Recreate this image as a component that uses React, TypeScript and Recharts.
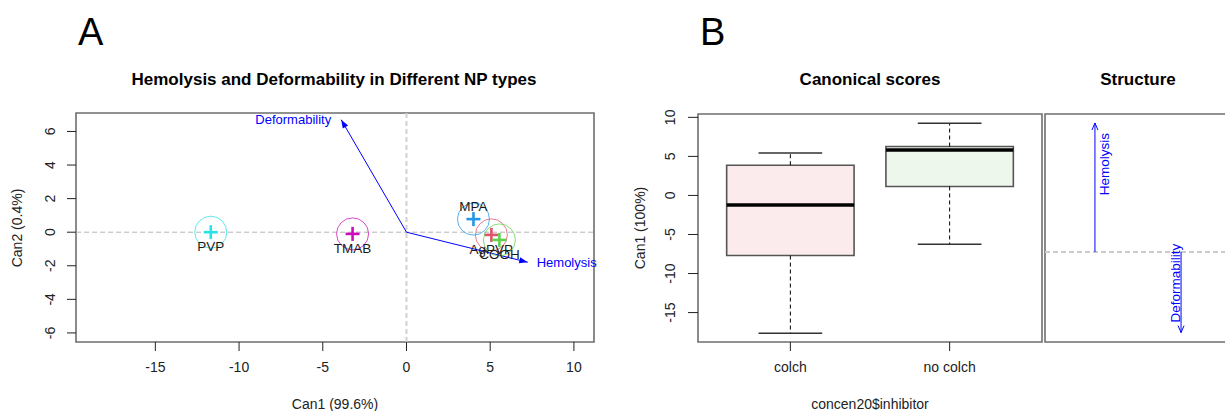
import React from "react";
import {
  ComposedChart,
  ReferenceArea,
  ReferenceLine,
  Scatter,
  ScatterChart,
  XAxis,
  YAxis,
} from "recharts";

const FONT = '"Liberation Sans", Arial, Helvetica, sans-serif';

// Panel A: canonical means of each NP type
const npTypes = ["AgPVP", "COOH", "MPA", "PVP", "TMAB"];
const can1Means = [5.07, 5.55, 4.0, -11.69, -3.22];
const can2Means = [-0.16, -0.46, 0.78, 0.0, -0.1];
const npColors = ["#DF536B", "#61D04F", "#2297E6", "#28E2E5", "#CD0BBC"];

// Panel A: variable vectors
const responseVars = ["Hemolysis", "Deformability"];
const can1Vectors = [7.24, -3.9];
const can2Vectors = [-1.79, 6.7];

const xTicksA = [-15, -10, -5, 0, 5, 10];
const yTicksA = [-6, -4, -2, 0, 2, 4, 6];

// Panel B: canonical scores by inhibitor
const inhibitors = ["colch", "no colch"];
const lowerWhisker = [-17.66, -6.26];
const lowerHinge = [-7.7, 1.15];
const medianScore = [-1.23, 5.83];
const upperHinge = [3.87, 6.26];
const upperWhisker = [5.45, 9.23];
const boxFills = ["#FBEBEC", "#EEF7EB"];
const yTicksB = [-15, -10, -5, 0, 5, 10];

// Panel B: structure coefficients
const structureCoef = [0.96, -0.6];

const domainXA: [number, number] = [-19.74, 11.2];
const domainYA: [number, number] = [-6.54, 7.1];
const domainXB: [number, number] = [0.42, 2.58];
const domainYB: [number, number] = [-18.77, 10.43];
const domainYS: [number, number] = [-0.67, 1.027];

const FRAME = "#6e6e6e";
const BLUE = "#0000FF";
const TXT = 14;
const TITLE = 17;

const rotTick = (off: number) => ({ x, y, payload }: any) => (
  <text
    x={x - off}
    y={y}
    transform={`rotate(-90, ${x - off}, ${y})`}
    textAnchor="middle"
    fontSize={TXT}
    fill="#222"
    fontFamily={FONT}
  >
    {payload.value}
  </text>
);

const bottomTick = (fmt: (v: number) => string) => ({ x, y, payload }: any) => (
  <text x={x} y={y + 21} textAnchor="middle" fontSize={TXT} fill="#222" fontFamily={FONT}>
    {fmt(payload.value)}
  </text>
);

const NpMarker = (props: any) => {
  const { cx, cy, payload } = props;
  const c = payload.color;
  const below = payload.y < 0.5;
  return (
    <g>
      <circle cx={cx} cy={cy} r={16} fill="none" stroke={c} strokeOpacity={0.75} strokeWidth={1} />
      <line x1={cx - 7} x2={cx + 7} y1={cy} y2={cy} stroke={c} strokeWidth={2.6} />
      <line x1={cx} x2={cx} y1={cy - 7} y2={cy + 7} stroke={c} strokeWidth={2.6} />
      <text
        x={cx}
        y={below ? cy + 19 : cy - 8}
        textAnchor="middle"
        fontSize={13.5}
        fill="#1a1a1a"
        fontFamily={FONT}
      >
        {payload.name}
      </text>
    </g>
  );
};

// arrow with filled head + label, used by ReferenceLine segments in panel A
const vectorArrow = (name: string) => (p: any) => {
  const { x1, y1, x2, y2 } = p;
  const ang = Math.atan2(y2 - y1, x2 - x1);
  const L = 9;
  const a1x = x2 - L * Math.cos(ang - 0.35);
  const a1y = y2 - L * Math.sin(ang - 0.35);
  const a2x = x2 - L * Math.cos(ang + 0.35);
  const a2y = y2 - L * Math.sin(ang + 0.35);
  const left = x2 < x1;
  return (
    <g>
      <line x1={x1} y1={y1} x2={x2} y2={y2} stroke={BLUE} strokeWidth={1} />
      <polygon points={`${x2},${y2} ${a1x},${a1y} ${a2x},${a2y}`} fill={BLUE} />
      <text
        x={left ? x2 - 10 : x2 + 9}
        y={y2 + 4.5}
        textAnchor={left ? "end" : "start"}
        fontSize={13}
        fill={BLUE}
        fontFamily={FONT}
      >
        {name}
      </text>
    </g>
  );
};

// vertical arrow with open head + rotated label for the structure panel
const structArrow = (name: string, up: boolean) => (p: any) => {
  const { x1, y1, x2, y2 } = p;
  const d = up ? 1 : -1;
  const tx = up ? x2 + 14 : x2 - 1;
  const ty = up ? y2 + 10 : y2 - 10;
  return (
    <g>
      <line x1={x1} y1={y1} x2={x2} y2={y2} stroke={BLUE} strokeWidth={1} />
      <polyline
        points={`${x2 - 3},${y2 + 7 * d} ${x2},${y2} ${x2 + 3},${y2 + 7 * d}`}
        fill="none"
        stroke={BLUE}
        strokeWidth={1}
      />
      <text
        x={tx}
        y={ty}
        transform={`rotate(-90, ${tx}, ${ty})`}
        textAnchor={up ? "end" : "start"}
        fontSize={13.5}
        fill={BLUE}
        fontFamily={FONT}
      >
        {name}
      </text>
    </g>
  );
};

const Empty = () => <g />;

export default function App() {
  const npData = npTypes.map((name, i) => ({
    name,
    x: can1Means[i],
    y: can2Means[i],
    color: npColors[i],
  }));
  const boxData = inhibitors.map((name, i) => ({ pos: i + 1, median: medianScore[i], name }));
  const structData = responseVars.map((name, i) => ({ pos: i + 1, coef: structureCoef[i], name }));

  return (
    <div
      style={{
        position: "fixed",
        left: 0,
        top: 0,
        width: 1225,
        height: 411,
        overflow: "hidden",
        background: "#fff",
        fontFamily: FONT,
      }}
    >
      <svg width={1225} height={411} style={{ position: "absolute", left: 0, top: 0 }}>
        <text x={78} y={45} fontSize={38} fontFamily={FONT} fill="#000">A</text>
        <text x={700} y={45} fontSize={38} fontFamily={FONT} fill="#000">B</text>
        <text x={334} y={85} fontSize={TITLE} fontWeight="bold" textAnchor="middle" fontFamily={FONT}>
          Hemolysis and Deformability in Different NP types
        </text>
        <text x={870} y={85} fontSize={TITLE} fontWeight="bold" textAnchor="middle" fontFamily={FONT}>
          Canonical scores
        </text>
        <text x={1138} y={85} fontSize={TITLE} fontWeight="bold" textAnchor="middle" fontFamily={FONT}>
          Structure
        </text>
        <text x={335} y={409} fontSize={TXT} textAnchor="middle" fill="#222" fontFamily={FONT}>
          Can1 (99.6%)
        </text>
        <text x={870} y={409} fontSize={TXT} textAnchor="middle" fill="#222" fontFamily={FONT}>
          concen20$inhibitor
        </text>
        <text x={22} y={228} fontSize={TXT} textAnchor="middle" fill="#222" fontFamily={FONT}
          transform="rotate(-90, 22, 228)">
          Can2 (0.4%)
        </text>
        <text x={645} y={228} fontSize={TXT} textAnchor="middle" fill="#222" fontFamily={FONT}
          transform="rotate(-90, 645, 228)">
          Can1 (100%)
        </text>
      </svg>

      {/* Panel A */}
      <div style={{ position: "absolute", left: 0, top: 0 }}>
        <ScatterChart width={600} height={411} margin={{ top: 113, right: 6, bottom: 0, left: 0 }}>
          <XAxis
            type="number"
            dataKey="x"
            domain={domainXA}
            allowDataOverflow
            ticks={xTicksA}
            interval={0}
            height={69}
            axisLine={false}
            tickSize={9}
            tickMargin={0}
            tickLine={{ stroke: "#222" }}
            tick={bottomTick((v) => String(v))}
          />
          <YAxis
            type="number"
            dataKey="y"
            domain={domainYA}
            allowDataOverflow
            ticks={yTicksA}
            interval={0}
            width={76}
            axisLine={false}
            tickSize={9}
            tickMargin={0}
            tickLine={{ stroke: "#222" }}
            tick={rotTick(12)}
          />
          <ReferenceLine x={0} stroke="#d0d0d0" strokeWidth={2} strokeDasharray="5 3" />
          <ReferenceLine y={0} stroke="#b4b4b4" strokeWidth={1} strokeDasharray="5 3" />
          {responseVars.map((name, i) => (
            <ReferenceLine
              key={name}
              ifOverflow="visible"
              segment={[
                { x: 0, y: 0 },
                { x: can1Vectors[i], y: can2Vectors[i] },
              ]}
              shape={vectorArrow(name)}
            />
          ))}
          <Scatter data={npData} shape={NpMarker} isAnimationActive={false} />
          <ReferenceArea
            x1={domainXA[0]}
            x2={domainXA[1]}
            y1={domainYA[0]}
            y2={domainYA[1]}
            ifOverflow="visible"
            fill="none"
            fillOpacity={0}
            stroke={FRAME}
            strokeWidth={1.6}
          />
        </ScatterChart>
      </div>

      {/* Panel B: boxplot */}
      <div style={{ position: "absolute", left: 600, top: 0 }}>
        <ComposedChart
          width={450}
          height={411}
          data={boxData}
          margin={{ top: 114, right: 8, bottom: 0, left: 0 }}
        >
          <XAxis
            type="number"
            dataKey="pos"
            domain={domainXB}
            allowDataOverflow
            ticks={[1, 2]}
            interval={0}
            height={69}
            axisLine={false}
            tickSize={9}
            tickMargin={0}
            tickLine={{ stroke: "#222" }}
            tick={bottomTick((v) => inhibitors[v - 1])}
          />
          <YAxis
            type="number"
            dataKey="median"
            domain={domainYB}
            allowDataOverflow
            ticks={yTicksB}
            interval={0}
            width={98}
            axisLine={false}
            tickSize={10}
            tickMargin={0}
            tickLine={{ stroke: "#222" }}
            tick={rotTick(13)}
          />
          {inhibitors.map((g, i) => (
            <React.Fragment key={g}>
              <ReferenceLine
                ifOverflow="visible"
                segment={[
                  { x: i + 1, y: upperHinge[i] },
                  { x: i + 1, y: upperWhisker[i] },
                ]}
                stroke="#000"
                strokeWidth={1}
                strokeDasharray="4 3"
              />
              <ReferenceLine
                ifOverflow="visible"
                segment={[
                  { x: i + 1, y: lowerHinge[i] },
                  { x: i + 1, y: lowerWhisker[i] },
                ]}
                stroke="#000"
                strokeWidth={1}
                strokeDasharray="4 3"
              />
              <ReferenceLine
                ifOverflow="visible"
                segment={[
                  { x: i + 0.8, y: upperWhisker[i] },
                  { x: i + 1.2, y: upperWhisker[i] },
                ]}
                stroke="#333"
                strokeWidth={1.5}
              />
              <ReferenceLine
                ifOverflow="visible"
                segment={[
                  { x: i + 0.8, y: lowerWhisker[i] },
                  { x: i + 1.2, y: lowerWhisker[i] },
                ]}
                stroke="#333"
                strokeWidth={1.5}
              />
              <ReferenceArea
                ifOverflow="visible"
                x1={i + 0.6}
                x2={i + 1.4}
                y1={lowerHinge[i]}
                y2={upperHinge[i]}
                fill={boxFills[i]}
                fillOpacity={1}
                stroke="#555"
                strokeWidth={1.6}
              />
              <ReferenceLine
                ifOverflow="visible"
                segment={[
                  { x: i + 0.6, y: medianScore[i] },
                  { x: i + 1.4, y: medianScore[i] },
                ]}
                stroke="#000"
                strokeWidth={3.5}
              />
            </React.Fragment>
          ))}
          <Scatter dataKey="median" shape={Empty} isAnimationActive={false} />
          <ReferenceArea
            x1={domainXB[0]}
            x2={domainXB[1]}
            y1={domainYB[0]}
            y2={domainYB[1]}
            ifOverflow="visible"
            fill="none"
            fillOpacity={0}
            stroke={FRAME}
            strokeWidth={1.6}
          />
        </ComposedChart>
      </div>

      {/* Panel B: structure */}
      <div style={{ position: "absolute", left: 1040, top: 0 }}>
        <ComposedChart
          width={200}
          height={411}
          data={structData}
          margin={{ top: 114, right: 9, bottom: 69, left: 5 }}
        >
          <XAxis type="number" dataKey="pos" domain={domainXB} allowDataOverflow hide />
          <YAxis type="number" dataKey="coef" domain={domainYS} allowDataOverflow hide />
          <ReferenceLine y={0} stroke="#cccccc" strokeWidth={2} strokeDasharray="5 3" />
          {responseVars.map((name, i) => (
            <ReferenceLine
              key={name}
              ifOverflow="visible"
              segment={[
                { x: i + 1, y: 0 },
                { x: i + 1, y: structureCoef[i] },
              ]}
              shape={structArrow(name, structureCoef[i] > 0)}
            />
          ))}
          <Scatter dataKey="coef" shape={Empty} isAnimationActive={false} />
          <ReferenceArea
            x1={domainXB[0]}
            x2={domainXB[1]}
            y1={domainYS[0]}
            y2={domainYS[1]}
            ifOverflow="visible"
            fill="none"
            fillOpacity={0}
            stroke={FRAME}
            strokeWidth={1.6}
          />
        </ComposedChart>
      </div>
    </div>
  );
}
